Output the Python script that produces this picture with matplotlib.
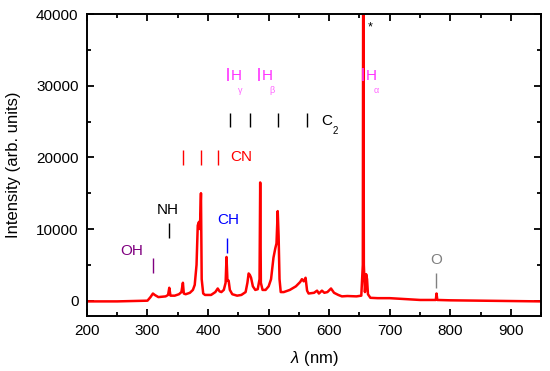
import matplotlib
matplotlib.use("Agg")
import matplotlib.pyplot as plt
from matplotlib.ticker import MultipleLocator

plt.rcParams['font.family'] = ['Liberation Sans', 'DejaVu Sans']
plt.rcParams['mathtext.fontset'] = 'custom'
plt.rcParams['mathtext.rm'] = 'Liberation Sans'
plt.rcParams['mathtext.it'] = 'Liberation Sans:italic'

# spectrum
wavelength = [200, 250, 300, 305, 309, 312, 318, 330, 334, 336, 338, 345, 352, 356,
              358.5, 360, 363, 370, 375, 378, 381, 383, 385, 386.5, 387.5, 388.3,
              389.5, 392, 395, 405, 412, 416, 419, 422, 426, 429, 430.5, 432, 434,
              436, 440, 448, 455, 462, 465, 467, 469, 471, 474, 478, 482, 485,
              486.1, 487.2, 490, 495, 500, 504, 508, 511, 513, 515, 516.5, 518,
              520, 525, 535, 545, 552, 555, 558, 561, 563.5, 566, 575, 580, 583,
              588, 592, 597, 603, 608, 615, 621, 630, 645, 653, 655.5, 656.3,
              657.2, 659, 661, 662.5, 664, 668, 680, 700, 720, 750, 776, 777.2,
              778.5, 800, 850, 900, 950]
intensity = [-100, -100, 0, 500, 1000, 800, 500, 600, 800, 1800, 700, 700, 900, 1200,
             2500, 1000, 900, 1100, 1500, 2200, 5000, 10500, 11000, 10000, 12500, 15000,
             3000, 1000, 800, 800, 1200, 1700, 1300, 1200, 1500, 2500, 6100, 2800, 2800,
             1500, 900, 700, 800, 1200, 2500, 3800, 3600, 3200, 2000, 1500, 1600, 3000,
             16500, 2500, 1500, 1500, 2000, 3000, 6000, 7300, 8000, 12500, 9000, 3000,
             1200, 1200, 1500, 2000, 2600, 3000, 2700, 3200, 1400, 1000, 1100, 1400, 1000,
             1400, 1100, 1200, 1700, 1100, 800, 600, 650, 600, 700, 5000, 60000,
             5000, 1200, 3700, 3000, 900, 400, 350, 350, 250, 100, 100, 1000,
             100, 50, 0, -50, -100]

# line markers (nm) and labels
cn_marks = [358, 388, 416]
c2_marks = [436, 469, 515, 563]
h_marks = [433, 484, 656]
h_subs = ['\u03b3', '\u03b2', '\u03b1']
oh_mark, nh_mark, ch_mark, o_mark = 309, 335, 431, 777

fig = plt.figure(figsize=(5.5, 3.71), dpi=100)
ax = fig.add_axes([0.158, 0.149, 0.826, 0.813])

ax.plot(wavelength, intensity, color='#ff0000', lw=1.8)

ax.set_xlim(200, 950)
ax.set_ylim(-2100, 40000)
ax.xaxis.set_major_locator(MultipleLocator(100))
ax.xaxis.set_minor_locator(MultipleLocator(50))
ax.yaxis.set_major_locator(MultipleLocator(10000))
ax.yaxis.set_minor_locator(MultipleLocator(5000))
ax.tick_params(which='both', direction='in', top=True, right=True, labelsize=11, width=1.3)
ax.tick_params(which='major', length=5, pad=6)
ax.tick_params(which='minor', length=3)
for s in ax.spines.values():
    s.set_linewidth(1.4)

ax.set_xlabel(r'$\it{\lambda}$ (nm)', fontsize=12)
ax.set_ylabel('Intensity (arb. units)', fontsize=12)
ax.xaxis.set_label_coords(0.5, -0.11)
ax.yaxis.set_label_coords(-0.145, 0.5)

fs = 11
# OH, NH, CH, O
ax.vlines(oh_mark, 3800, 6000, color='#800080', lw=1)
ax.text(274, 7000, 'OH', color='#800080', fontsize=fs, ha='center', va='center')
ax.vlines(nh_mark, 8800, 10800, color='black', lw=1)
ax.text(334, 12600, 'NH', color='black', fontsize=fs, ha='center', va='center')
ax.vlines(ch_mark, 6700, 8800, color='#0000ff', lw=1)
ax.text(433, 11200, 'CH', color='#0000ff', fontsize=fs, ha='center', va='center')
ax.vlines(o_mark, 1800, 3900, color='#808080', lw=1)
ax.text(776, 5700, 'O', color='#808080', fontsize=fs, ha='center', va='center')

# CN
ax.vlines(cn_marks, 19000, 21100, color='#ff0000', lw=1)
ax.text(436, 20000, 'CN', color='#ff0000', fontsize=fs, ha='left', va='center')

# C2
ax.vlines(c2_marks, 24200, 26200, color='black', lw=1)
ax.text(587, 25100, 'C', color='black', fontsize=fs, ha='left', va='center')
ax.text(606, 23700, '2', color='black', fontsize=7, ha='left', va='center')

# Balmer lines
ax.vlines(h_marks, 30600, 32500, color='#ff33ff', lw=1.2)
for x, sub in zip(h_marks, h_subs):
    ax.text(x + 5, 31400, 'H', color='#ff33ff', fontsize=fs, ha='left', va='center')
    ax.text(x + 17, 29300, sub, color='#ff66ff', fontsize=6.5, ha='left', va='center')

ax.text(667, 38200, '*', color='black', fontsize=9, ha='center', va='center')

fig.savefig('out.png', dpi=100)
